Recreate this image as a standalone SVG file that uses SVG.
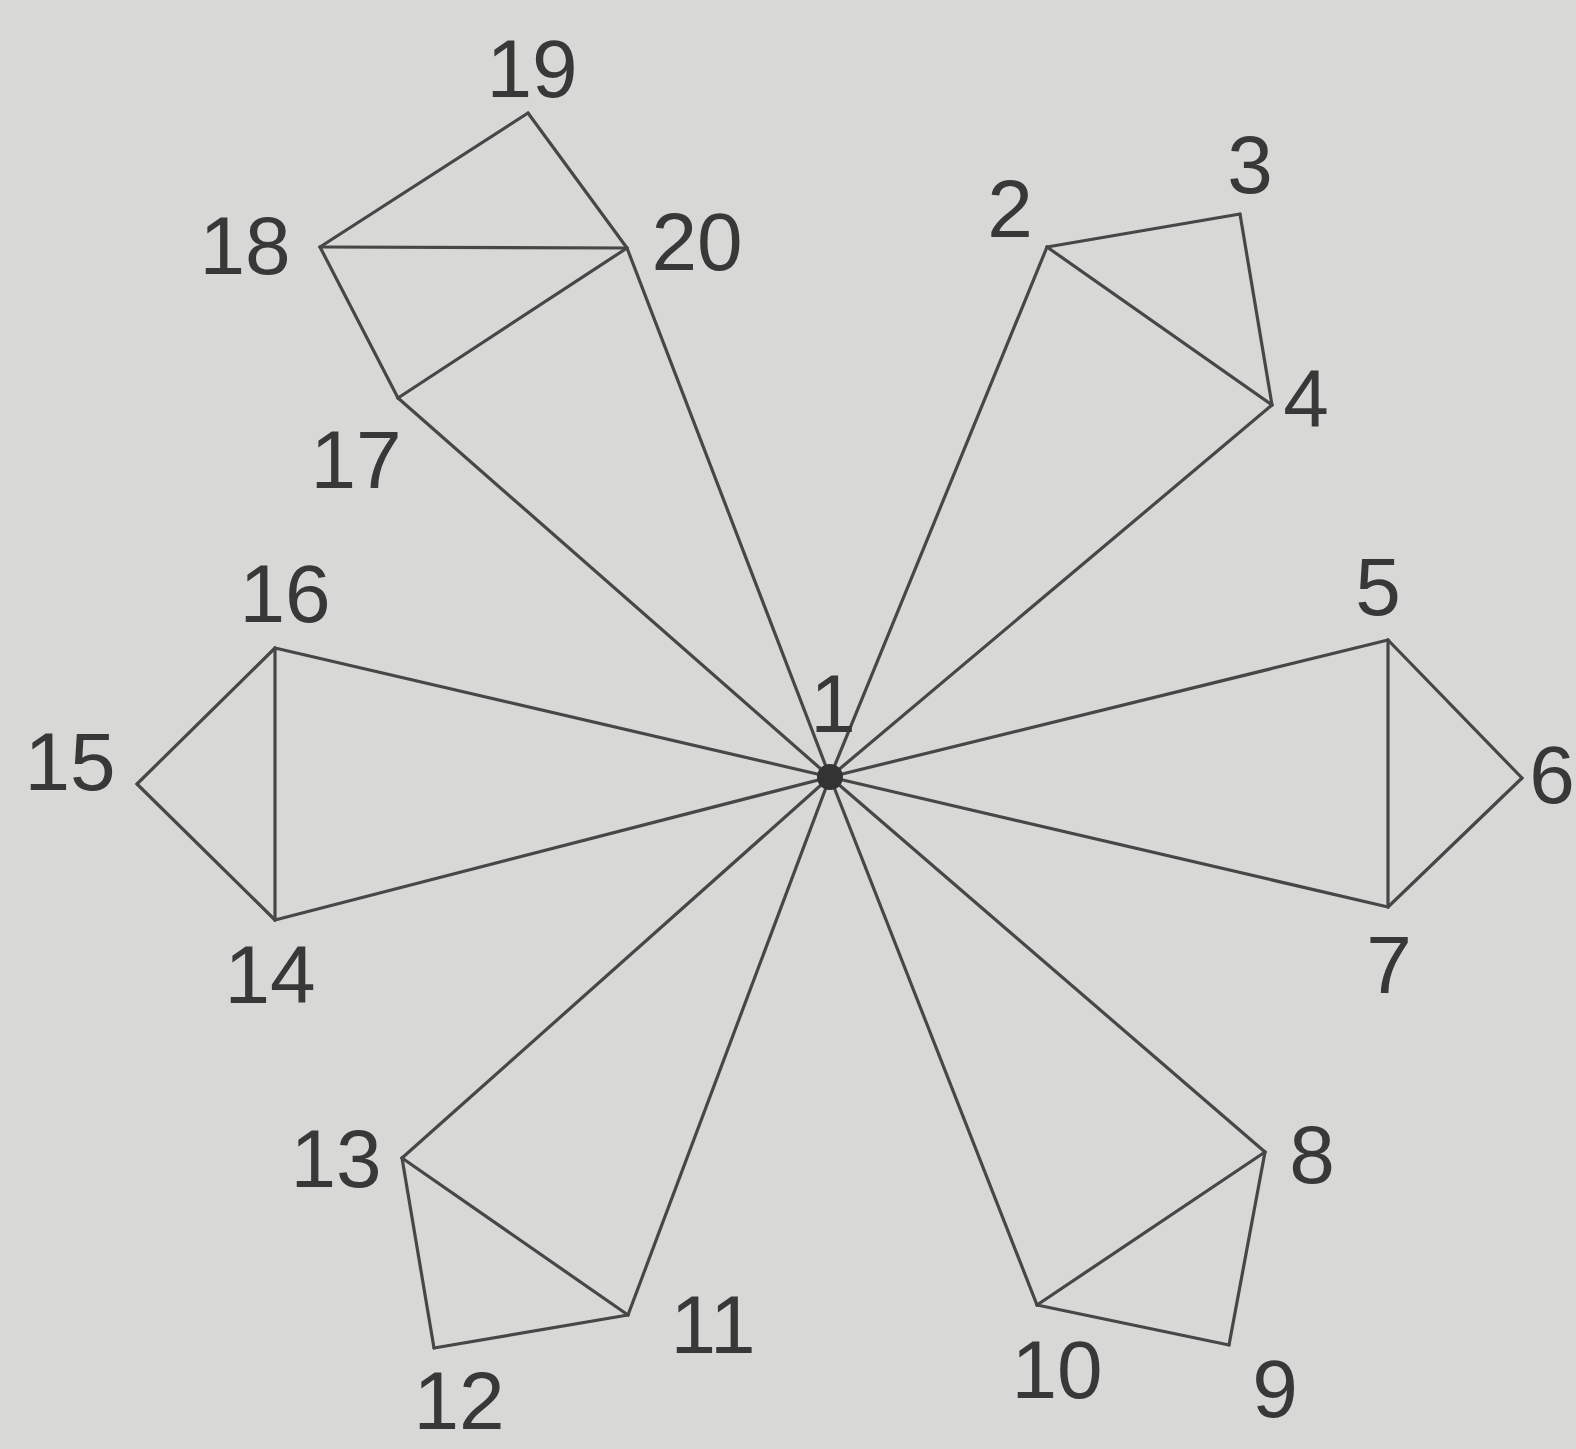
<svg xmlns="http://www.w3.org/2000/svg" width="1576" height="1449" viewBox="0 0 1576 1449">
<style>
.e{stroke:#474747;stroke-width:3.2;stroke-linecap:round;fill:none}
.t{font-family:"Liberation Sans",Arial,sans-serif;font-size:82px;fill:#383838;text-anchor:middle}
</style>
<rect width="1576" height="1449" fill="#d8d8d6"/>
<g id="connectors" class="e">
<line x1="830" y1="777" x2="1047" y2="247"/>
<line x1="830" y1="777" x2="1272" y2="405"/>
<line x1="1047" y1="247" x2="1240" y2="214"/>
<line x1="1240" y1="214" x2="1272" y2="405"/>
<line x1="1047" y1="247" x2="1272" y2="405"/>
<line x1="830" y1="777" x2="1388" y2="640"/>
<line x1="830" y1="777" x2="1388" y2="907"/>
<line x1="1388" y1="640" x2="1522" y2="778"/>
<line x1="1522" y1="778" x2="1388" y2="907"/>
<line x1="1388" y1="640" x2="1388" y2="907"/>
<line x1="830" y1="777" x2="1265" y2="1152"/>
<line x1="830" y1="777" x2="1037" y2="1305"/>
<line x1="1265" y1="1152" x2="1229" y2="1345"/>
<line x1="1229" y1="1345" x2="1037" y2="1305"/>
<line x1="1265" y1="1152" x2="1037" y2="1305"/>
<line x1="830" y1="777" x2="628" y2="1315"/>
<line x1="830" y1="777" x2="402" y2="1158"/>
<line x1="628" y1="1315" x2="434" y2="1348"/>
<line x1="434" y1="1348" x2="402" y2="1158"/>
<line x1="628" y1="1315" x2="402" y2="1158"/>
<line x1="830" y1="777" x2="275" y2="920"/>
<line x1="830" y1="777" x2="275" y2="648"/>
<line x1="275" y1="920" x2="137" y2="784"/>
<line x1="137" y1="784" x2="275" y2="648"/>
<line x1="275" y1="920" x2="275" y2="648"/>
<line x1="830" y1="777" x2="398" y2="398"/>
<line x1="830" y1="777" x2="627" y2="248"/>
<line x1="398" y1="398" x2="320" y2="247"/>
<line x1="320" y1="247" x2="528" y2="113"/>
<line x1="528" y1="113" x2="627" y2="248"/>
<line x1="320" y1="247" x2="627" y2="248"/>
<line x1="398" y1="398" x2="627" y2="248"/>
</g>
<g id="n1"><circle cx="830" cy="777" r="13" fill="#333"/><text class="t" x="833" y="732">1</text></g>
<g id="n2"><text class="t" x="1010" y="237">2</text></g>
<g id="n3"><text class="t" x="1250" y="193">3</text></g>
<g id="n4"><text class="t" x="1306" y="427">4</text></g>
<g id="n5"><text class="t" x="1378" y="615">5</text></g>
<g id="n6"><text class="t" x="1552" y="803">6</text></g>
<g id="n7"><text class="t" x="1389" y="993">7</text></g>
<g id="n8"><text class="t" x="1312" y="1183">8</text></g>
<g id="n9"><text class="t" x="1275" y="1417">9</text></g>
<g id="n10"><text class="t" x="1057" y="1398">10</text></g>
<g id="n11"><text class="t" x="713" y="1353">11</text></g>
<g id="n12"><text class="t" x="459" y="1429">12</text></g>
<g id="n13"><text class="t" x="336" y="1187">13</text></g>
<g id="n14"><text class="t" x="270" y="1003">14</text></g>
<g id="n15"><text class="t" x="70" y="790">15</text></g>
<g id="n16"><text class="t" x="285" y="622">16</text></g>
<g id="n17"><text class="t" x="356" y="488">17</text></g>
<g id="n18"><text class="t" x="245" y="274">18</text></g>
<g id="n19"><text class="t" x="532" y="97">19</text></g>
<g id="n20"><text class="t" x="697" y="270">20</text></g>
</svg>
